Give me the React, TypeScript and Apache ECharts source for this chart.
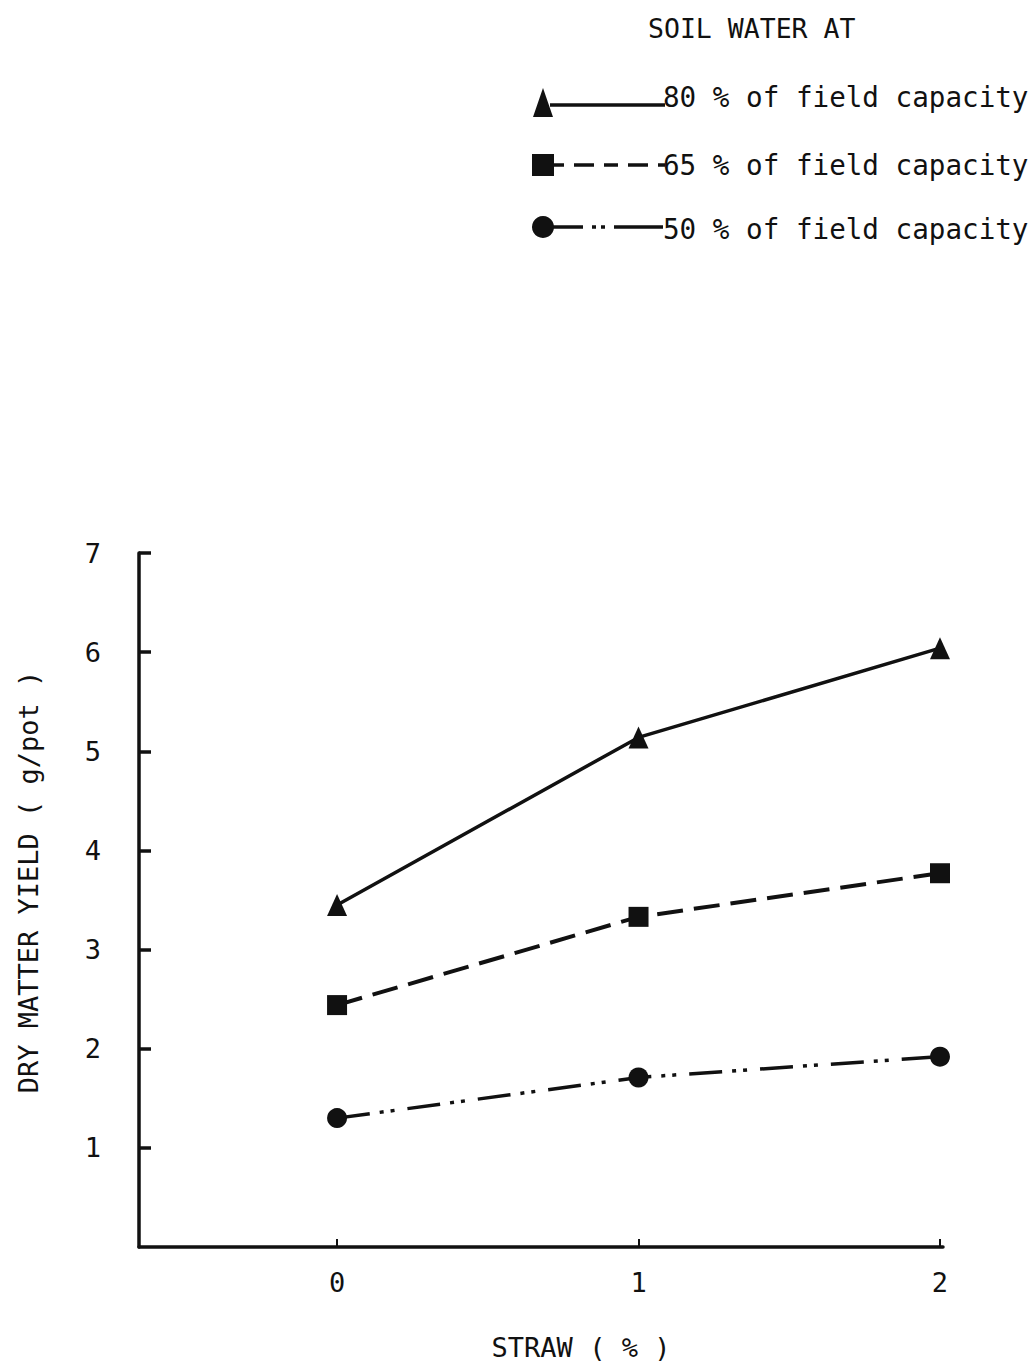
import React, { useEffect, useRef } from "react";
import * as echarts from "echarts";

// ---- data ----
const strawPercent = [0, 1, 2];
const xTickValues = [0, 1, 2];
const yieldAt80 = [3.45, 5.14, 6.04];
const yieldAt65 = [2.44, 3.33, 3.77];
const yieldAt50 = [1.3, 1.71, 1.92];
const seriesNames = [
  "80 % of field capacity",
  "65 % of field capacity",
  "50 % of field capacity",
];
const legendTitle = "SOIL WATER AT";
const xAxisName = "STRAW ( % )";
const yAxisName = "DRY MATTER YIELD ( g/pot )";

const FONT_FAMILY = '"DejaVu Sans Mono", monospace';
const INK = "#111";

const dash65 = [26, 11];
const dash50 = [33, 10, 4, 7, 4, 13];

export default function App() {
  const ref = useRef<HTMLDivElement>(null);

  useEffect(() => {
    if (!ref.current) return;
    const chart = echarts.init(ref.current, undefined, { renderer: "svg" });

    const pairs = (ys: number[]) => strawPercent.map((x, i) => [x, ys[i]]);

    const legendRows = [
      { y: 105, textY: 97 },
      { y: 165, textY: 165 },
      { y: 227, textY: 229 },
    ];

    const graphic: any[] = [
      {
        type: "text",
        x: 648,
        y: 28,
        style: {
          text: legendTitle,
          font: `26.5px ${FONT_FAMILY}`,
          fill: INK,
          verticalAlign: "middle",
          align: "left",
        },
      },
      // legend row 1 (80%)
      {
        type: "line",
        shape: { x1: 550, y1: legendRows[0].y, x2: 665, y2: legendRows[0].y },
        style: { stroke: INK, lineWidth: 3.5 },
      },
      {
        type: "polygon",
        shape: { points: [[543, 88], [533, 117], [553, 117]] },
        style: { fill: INK },
      },
      // legend row 2 (65%)
      {
        type: "line",
        shape: { x1: 550, y1: legendRows[1].y, x2: 665, y2: legendRows[1].y },
        style: { stroke: INK, lineWidth: 3.5, lineDash: [14, 10, 20, 10] },
      },
      {
        type: "rect",
        shape: { x: 532, y: 154, width: 22, height: 22 },
        style: { fill: INK },
      },
      // legend row 3 (50%)
      {
        type: "line",
        shape: { x1: 550, y1: legendRows[2].y, x2: 663, y2: legendRows[2].y },
        style: { stroke: INK, lineWidth: 3.5, lineDash: [33, 9, 4, 5, 4, 9, 60] },
      },
      {
        type: "circle",
        shape: { cx: 543, cy: 227, r: 11 },
        style: { fill: INK },
      },
      ...seriesNames.map((name, i) => ({
        type: "text",
        x: 663,
        y: legendRows[i].textY,
        style: {
          text: name,
          font: `27.6px ${FONT_FAMILY}`,
          fill: INK,
          verticalAlign: "middle",
          align: "left",
        },
      })),
      // axis names
      {
        type: "text",
        x: 28,
        y: 882,
        rotation: Math.PI / 2,
        style: {
          text: yAxisName,
          font: `27px ${FONT_FAMILY}`,
          fill: INK,
          align: "center",
          verticalAlign: "middle",
        },
      },
      {
        type: "text",
        x: 581,
        y: 1347,
        style: {
          text: xAxisName,
          font: `27px ${FONT_FAMILY}`,
          fill: INK,
          align: "center",
          verticalAlign: "middle",
        },
      },
    ];

    chart.setOption({
      animation: false,
      backgroundColor: "#fff",
      grid: { left: 139, top: 553, right: 90, bottom: 117, containLabel: false },
      xAxis: {
        type: "value",
        min: -0.657,
        max: 2.01,
        axisLine: { onZero: false, lineStyle: { color: INK, width: 3.5 } },
        axisTick: {
          show: true,
          inside: true,
          length: 8,
          customValues: xTickValues,
          lineStyle: { color: INK, width: 2 },
        },
        axisLabel: {
          customValues: xTickValues,
          margin: 22,
          color: INK,
          fontFamily: FONT_FAMILY,
          fontSize: 27,
          formatter: (v: number) => String(v),
        },
        splitLine: { show: false },
      },
      yAxis: {
        type: "value",
        min: 0,
        max: 7,
        interval: 1,
        axisLine: { onZero: false, lineStyle: { color: INK, width: 3.5 } },
        axisTick: { show: true, inside: true, length: 12, lineStyle: { color: INK, width: 3.5 } },
        axisLabel: {
          margin: 38,
          color: INK,
          fontFamily: FONT_FAMILY,
          fontSize: 27,
          showMinLabel: false,
          formatter: (v: number) => (v === 0 ? "" : String(v)),
        },
        splitLine: { show: false },
      },
      series: [
        {
          name: seriesNames[0],
          type: "line",
          data: pairs(yieldAt80),
          symbol: "triangle",
          symbolSize: [20, 22],
          itemStyle: { color: INK },
          lineStyle: { color: INK, width: 3.5 },
        },
        {
          name: seriesNames[1],
          type: "line",
          data: pairs(yieldAt65),
          symbol: "rect",
          symbolSize: 20,
          itemStyle: { color: INK },
          lineStyle: { color: INK, width: 4, type: dash65 },
        },
        {
          name: seriesNames[2],
          type: "line",
          data: pairs(yieldAt50),
          symbol: "circle",
          symbolSize: 20,
          itemStyle: { color: INK },
          lineStyle: { color: INK, width: 3.5, type: dash50 },
        },
      ],
      graphic,
    });

    return () => chart.dispose();
  }, []);

  return (
    <div
      ref={ref}
      style={{ position: "fixed", left: 0, top: 0, width: 1033, height: 1364, background: "#fff" }}
    />
  );
}
